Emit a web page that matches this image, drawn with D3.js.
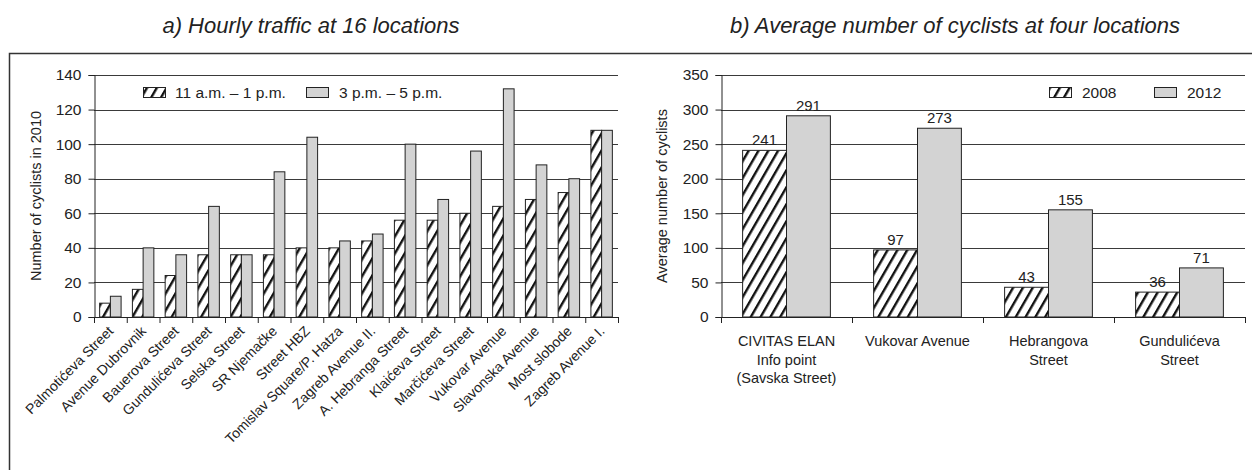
<!DOCTYPE html>
<html><head><meta charset="utf-8">
<script src="https://cdn.jsdelivr.net/npm/d3@7/dist/d3.min.js"></script>
<style>body{margin:0;background:#fff}svg text{font-family:"Liberation Sans",Arial,sans-serif;fill:#222}</style>
</head><body><svg id="c" width="1252" height="470"></svg>
<script>
const locationsA = ["Palmotićeva Street","Avenue Dubrovnik","Bauerova Street","Gundulićeva Street","Selska Street","SR Njemačke","Street HBZ","Tomislav Square/P. Hatza","Zagreb Avenue II.","A. Hebranga Street","Klaićeva Street","Marčićeva Street","Vukovar Avenue","Slavonska Avenue","Most slobode","Zagreb Avenue I."];
const morning = [8,16,24,36,36,36,40,40,44,56,56,60,64,68,72,108];
const afternoon = [12,40,36,64,36,84,104,44,48,100,68,96,132,88,80,108];
const seriesA = ["11 a.m. – 1 p.m.","3 p.m. – 5 p.m."];
const ticksA = [0,20,40,60,80,100,120,140];

const locationsB = [["CIVITAS ELAN","Info point","(Savska Street)"],["Vukovar Avenue"],["Hebrangova","Street"],["Gundulićeva","Street"]];
const y2008 = [241,97,43,36];
const y2012 = [291,273,155,71];
const seriesB = ["2008","2012"];
const ticksB = [0,50,100,150,200,250,300,350];

const svg = d3.select("#c");
const defs = svg.append("defs");
const pat = defs.append("pattern").attr("id","hatch").attr("patternUnits","userSpaceOnUse")
  .attr("width",8.5).attr("height",8.5).attr("patternTransform","rotate(30)");
pat.append("rect").attr("width",8.5).attr("height",8.5).attr("fill","#fff");
pat.append("line").attr("x1",1.2).attr("y1",-1).attr("x2",1.2).attr("y2",10).attr("stroke","#111").attr("stroke-width",2.4);

const GRAY = "#d3d3d3";
svg.append("rect").attr("x",9.5).attr("y",53.5).attr("width",1400).attr("height",600)
  .attr("fill","none").attr("stroke","#333").attr("stroke-width",1.5);

svg.append("text").attr("x",311).attr("y",33).attr("text-anchor","middle").attr("font-style","italic")
  .attr("font-size",22).text("a) Hourly traffic at 16 locations");
svg.append("text").attr("x",955).attr("y",33).attr("text-anchor","middle").attr("font-style","italic")
  .attr("font-size",22).text("b) Average number of cyclists at four locations");

function panel(opt){
  const g = svg.append("g");
  const x = d3.scaleBand().domain(d3.range(opt.n)).range([opt.x0,opt.x1]).paddingInner(0).paddingOuter(0);
  const y = d3.scaleLinear().domain([0,opt.max]).range([317,75]);
  const inner = x.bandwidth()*opt.frac;
  const sub = d3.scaleBand().domain([0,1]).range([0,inner]);
  const off = (x.bandwidth()-inner)/2;
  g.selectAll(".grid").data(opt.ticks.slice(1)).join("line")
    .attr("x1",opt.x0).attr("x2",opt.x1).attr("y1",d=>Math.round(y(d))+0.5).attr("y2",d=>Math.round(y(d))+0.5)
    .attr("stroke","#3a3a3a").attr("stroke-width",1.2);
  [opt.a,opt.b].forEach((vals,si)=>{
    g.selectAll(".b"+si).data(vals).join("rect")
      .attr("x",(d,i)=>x(i)+off+sub(si)).attr("width",sub.bandwidth())
      .attr("y",d=>y(d)).attr("height",d=>y(0)-y(d))
      .attr("fill",si===0?"url(#hatch)":GRAY).attr("stroke","#222").attr("stroke-width",1);
  });
  const ya = d3.axisLeft(y).tickValues(opt.ticks).tickSize(6).tickPadding(7);
  const yg = g.append("g").attr("transform",`translate(${opt.x0+0.5},0)`).call(ya);
  yg.select(".domain").attr("stroke","#222");
  yg.selectAll("line").attr("stroke","#222");
  yg.selectAll("text").attr("font-size",15.5).attr("fill","#222");
  const bounds = d3.range(opt.n+1).map(i=>opt.x0+i*x.bandwidth());
  g.append("line").attr("x1",opt.x0).attr("x2",opt.x1).attr("y1",317.5).attr("y2",317.5).attr("stroke","#222").attr("stroke-width",1.2);
  g.selectAll(".xt").data(bounds).join("line").attr("x1",d=>d+0.5).attr("x2",d=>d+0.5)
    .attr("y1",317).attr("y2",323).attr("stroke","#222");
  g.append("text").attr("transform",`translate(${opt.titleX},196) rotate(-90)`).attr("text-anchor","middle")
    .attr("font-size",14.5).text(opt.title);
  return {g,x,y,off,sub,inner};
}

const A = panel({n:16,x0:94,x1:618,max:140,ticks:ticksA,a:morning,b:afternoon,frac:0.655,title:"Number of cyclists in 2010",titleX:41});
A.g.selectAll(".xl").data(locationsA).join("text")
  .attr("transform",(d,i)=>`translate(${A.x(i)+A.x.bandwidth()/2-3},325) rotate(-45)`)
  .attr("text-anchor","end").attr("dy","0.7em").attr("font-size",14).text(d=>d);

const B = panel({n:4,x0:721,x1:1245,max:350,ticks:ticksB,a:y2008,b:y2012,frac:0.67,title:"Average number of cyclists",titleX:667});
locationsB.forEach((lines,i)=>{
  const t = B.g.append("text").attr("x",B.x(i)+B.x.bandwidth()/2).attr("y",346).attr("text-anchor","middle").attr("font-size",14.5);
  lines.forEach((l,j)=>t.append("tspan").attr("x",B.x(i)+B.x.bandwidth()/2).attr("dy",j===0?0:18.5).text(l));
});
[y2008,y2012].forEach((vals,si)=>{
  B.g.selectAll(".vl"+si).data(vals).join("text")
    .attr("x",(d,i)=>B.x(i)+B.off+B.sub(si)+B.sub.bandwidth()/2).attr("y",d=>B.y(d)-5)
    .attr("text-anchor","middle").attr("font-size",15).text(d=>d);
});

function legend(items, xs, tx){
  items.forEach((s,i)=>{
    svg.append("rect").attr("x",xs[i]).attr("y",87.5).attr("width",22).attr("height",10)
      .attr("fill",i===0?"url(#hatch)":GRAY).attr("stroke","#222");
    svg.append("text").attr("x",tx[i]).attr("y",98).attr("font-size",15.5).text(s);
  });
}
legend(seriesA,[143.5,306.5],[175,339]);
legend(seriesB,[1049.5,1154.5],[1082,1187]);
</script></body></html>
